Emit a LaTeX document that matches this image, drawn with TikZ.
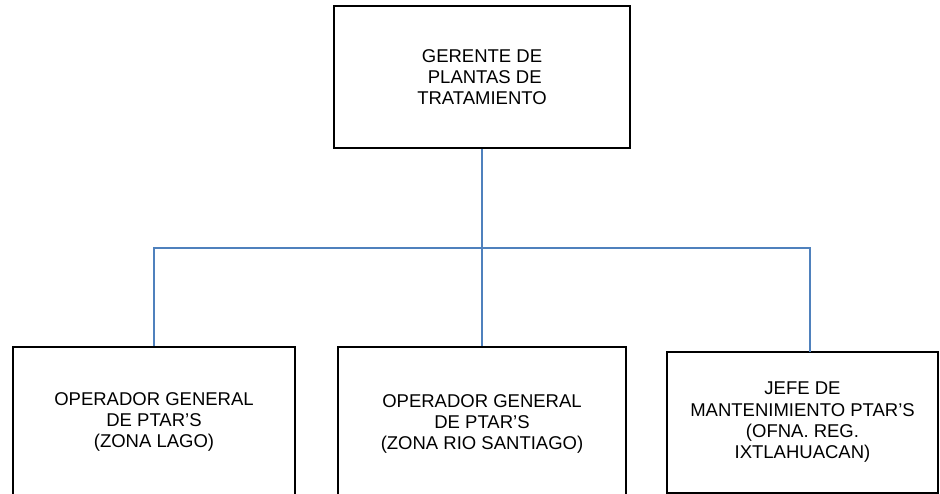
\documentclass[tikz,border=0pt]{standalone}
\usepackage{fontspec}
\setmainfont{Liberation Sans}
\usepackage{tikz}
\definecolor{conector}{HTML}{4F81BD}
\tikzset{%
    caja/.style={draw=black, line width=1.6pt, align=center, inner sep=0pt,
        font=\fontsize{18.5}{21.3}\selectfont},
    linea/.style={draw=conector, line width=1.8pt}
}

\begin{document}
\begin{tikzpicture}[x=1pt,y=1pt]
    \useasboundingbox (0,0) rectangle (940,-494);

    % gerente
    \node[caja, minimum width=296, minimum height=142] (gerente) at (482,-77)
        {GERENTE DE\\\hspace*{0.3em}PLANTAS DE\\TRATAMIENTO};

    % operadores y jefe
    \node[caja, minimum width=282, minimum height=150] (lago) at (154,-422)
        {OPERADOR GENERAL\\DE PTAR’S\\(ZONA LAGO)};
    \node[caja, minimum width=288, minimum height=154] (rio) at (482,-424)
        {OPERADOR GENERAL\\DE PTAR’S\\(ZONA RIO SANTIAGO)};
    \node[caja, minimum width=271, minimum height=141] (jefe) at (802.5,-422.5)
        {JEFE DE\\MANTENIMIENTO PTAR’S\\(OFNA. REG.\\IXTLAHUACAN)};

    \coordinate (bus) at (482,-248);
    \coordinate (jefe-in) at (810,-352);

    \draw[linea] (gerente) -- (rio);
    \draw[linea] (lago.north) |- (bus);
    \draw[linea] (jefe-in) |- (bus);
\end{tikzpicture}
\end{document}
